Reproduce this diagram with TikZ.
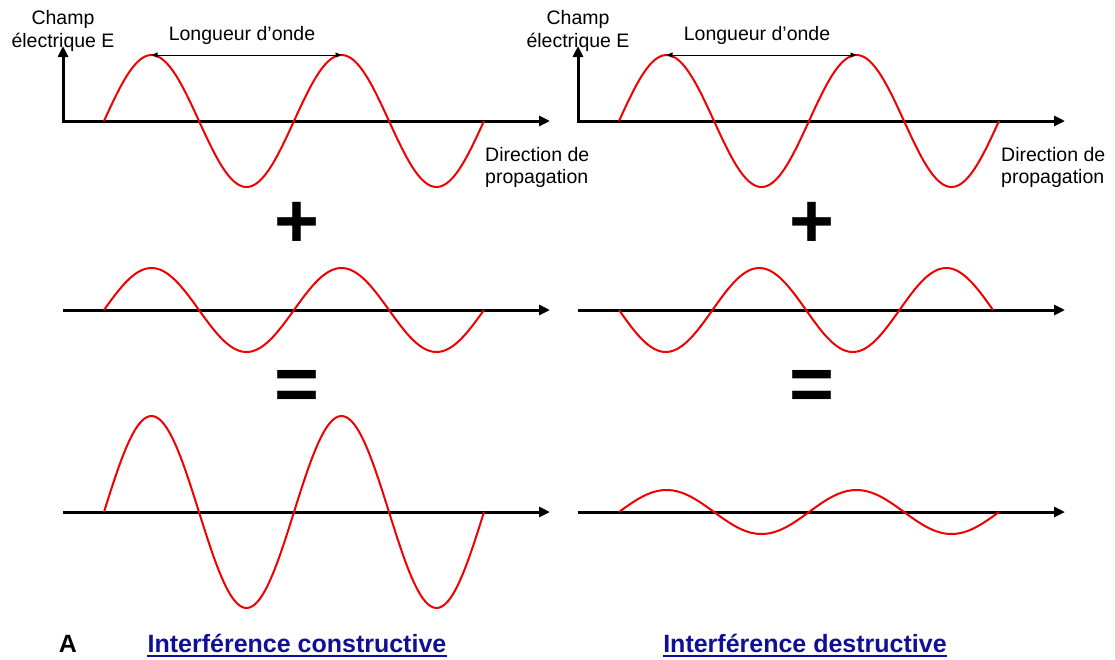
\documentclass[tikz,border=0pt]{standalone}
\usepackage{fontspec}
\setmainfont{Liberation Sans}
\usetikzlibrary{arrows.meta}
\definecolor{wavered}{RGB}{240,0,0}
\definecolor{labelblue}{RGB}{16,16,150}
\begin{document}
\begin{tikzpicture}[x=1pt,y=-1pt,
 axis/.style={line width=3pt,line join=miter,{Triangle[length=11pt,width=10pt]}-{Triangle[length=11pt,width=10pt]}},
 haxis/.style={line width=3pt,-{Triangle[length=11pt,width=10pt]}},
 wave/.style={wavered,line width=2pt,line join=round},
 lbl/.style={inner sep=0pt,anchor=base,font=\fontsize{19.5}{22}\selectfont},
 lbll/.style={lbl,anchor=base west},
 sign/.style={inner sep=0pt,anchor=base,font=\fontsize{77}{77}\bfseries\selectfont},
 title/.style={inner sep=0pt,anchor=base,font=\fontsize{25}{30}\bfseries\selectfont,text=labelblue},
 uline/.style={labelblue,line width=2.5pt},
 wl/.style={line width=0.8pt,{Triangle[length=6pt,width=5pt]}-{Triangle[length=6pt,width=5pt]}}]
\useasboundingbox (0,0) rectangle (1115,659);
\fill[white] (0,0) rectangle (1115,659);

% ---------- left panel ----------
\coordinate (LY) at (63,46);
\coordinate (LO) at (63,121);
\coordinate (LX) at (550,121);
\draw[axis] (LY) -- (LO) -- (LX);
\draw[wave] plot[domain=104:484,samples=150,smooth] (\x,{121-66*sin((\x-104)/190*360)});
\coordinate (Lp1) at (151.5,55);
\coordinate (Lp2) at (341.5,55);
\draw[wl] (Lp1) -- (Lp2);
\node[lbl] (Llw) at (242,40) {Longueur d’onde};
\node[lbl] (Lc1) at (63,24) {Champ};
\node[lbl] (Lc2) at (63,47) {électrique E};
\node[lbll] (Ld1) at (485,161) {Direction de};
\node[lbll] (Ld2) at (485,183) {propagation};
\node[sign] (Lplus) at (297,247) {+};

\coordinate (L2a) at (63,310);
\coordinate (L2b) at (550,310);
\draw[haxis] (L2a) -- (L2b);
\draw[wave] plot[domain=104:484,samples=150,smooth] (\x,{310-42*sin((\x-104)/190*360)});
\node[sign] (Leq) at (297,410) {=};

\coordinate (L3a) at (63,512);
\coordinate (L3b) at (550,512);
\draw[haxis] (L3a) -- (L3b);
\draw[wave] plot[domain=104:484,samples=150,smooth] (\x,{512-96*sin((\x-104)/190*360)});

\node[inner sep=0pt,anchor=base,font=\fontsize{25}{30}\bfseries\selectfont] (LA) at (68,652) {A};
\node[title] (Lt) at (297,652) {Interférence constructive};
\draw[uline] ([yshift=-4pt]Lt.base west) -- ([yshift=-4pt]Lt.base east);

% ---------- right panel ----------
\coordinate (RY) at (578,46);
\coordinate (RO) at (578,121);
\coordinate (RX) at (1065,121);
\draw[axis] (RY) -- (RO) -- (RX);
\draw[wave] plot[domain=619:999,samples=150,smooth] (\x,{121-66*sin((\x-619)/190*360)});
\coordinate (Rp1) at (666.5,55);
\coordinate (Rp2) at (856.5,55);
\draw[wl] (Rp1) -- (Rp2);
\node[lbl] (Rlw) at (757,40) {Longueur d’onde};
\node[lbl] (Rc1) at (578,24) {Champ};
\node[lbl] (Rc2) at (578,47) {électrique E};
\node[lbll] (Rd1) at (1001,161) {Direction de};
\node[lbll] (Rd2) at (1001,183) {propagation};
\node[sign] (Rplus) at (812,247) {+};

\coordinate (R2a) at (578,310);
\coordinate (R2b) at (1065,310);
\draw[haxis] (R2a) -- (R2b);
\draw[wave] plot[domain=619:993,samples=150,smooth] (\x,{310+42*sin((\x-619)/187*360)});
\node[sign] (Req) at (812,410) {=};

\coordinate (R3a) at (578,512);
\coordinate (R3b) at (1065,512);
\draw[haxis] (R3a) -- (R3b);
\draw[wave] plot[domain=619:999,samples=150,smooth] (\x,{512-22*sin((\x-619)/190*360)});

\node[title] (Rt) at (805,652) {Interférence destructive};
\draw[uline] ([yshift=-4pt]Rt.base west) -- ([yshift=-4pt]Rt.base east);
\end{tikzpicture}
\end{document}
